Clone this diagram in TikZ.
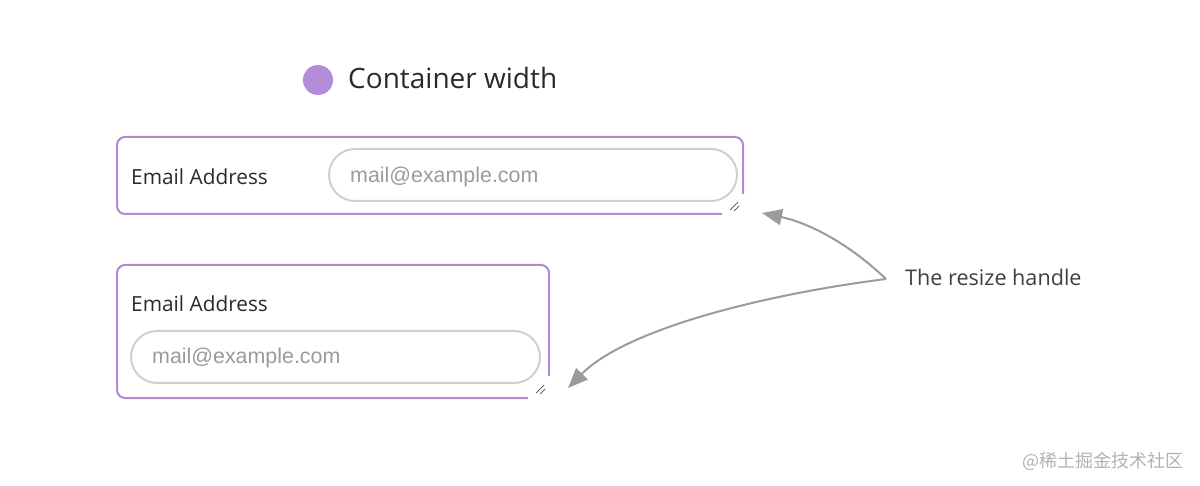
\documentclass[tikz,border=0pt]{standalone}
\usepackage{fontspec}
\setmainfont{Open Sans}
\newfontfamily\fieldfont{Liberation Sans}
\newfontfamily\cjk{Noto Sans CJK SC}
\usetikzlibrary{arrows.meta,calc}

\definecolor{lilac}{HTML}{B48CDA}
\definecolor{boxline}{HTML}{B089D2}
\definecolor{fieldline}{HTML}{CFCFCF}
\definecolor{hintgray}{HTML}{9B9B9B}
\definecolor{inktext}{HTML}{2A2A2A}

\begin{document}
\begin{tikzpicture}[x=1pt,y=-1pt,every node/.style={inner sep=0pt}]

\tikzstyle{container}=[draw=boxline,line width=2pt,rounded corners=8pt];
\tikzstyle{field}=[draw=fieldline,line width=2pt,rounded corners=26pt];
\tikzstyle{label}=[anchor=base west,text=inktext,font=\fontsize{20.8}{24}\selectfont];
\tikzstyle{placeholder}=[anchor=base west,text=hintgray,font=\fieldfont\fontsize{21.4}{24}\selectfont];
\tikzstyle{grip}=[draw=black!70,line width=0.7pt];
\tikzstyle{pointer}=[draw=hintgray,line width=2pt,-{Triangle[length=20pt,width=16pt]}];

\useasboundingbox (0,0) rectangle (1200,486);

% legend
\node[circle,fill=lilac,minimum size=30pt] (dot) at (318,80) {};
\node[anchor=base west,text=inktext,font=\fontsize{28}{32}\selectfont] (legend) at (348,89) {Container width};

% wide container
\draw[container] (722,214) -- (117,214) -- (117,137) -- (743,137) -- (743,194);
\draw[field] (329,149) rectangle (737,201);
\node[label] (lab1) at (131,185) {Email Address};
\node[placeholder] (ph1) at (350,183) {mail@example.com};
\coordinate (grip1) at (734,206);
\draw[grip] ($(grip1)+(-4,4)$) -- ($(grip1)+(4,-4)$);
\draw[grip] ($(grip1)+(0,5)$) -- ($(grip1)+(5,0)$);

% narrow container
\draw[container] (528,398) -- (117,398) -- (117,265) -- (549,265) -- (549,376);
\draw[field] (131,331) rectangle (540,383);
\node[label] (lab2) at (131,312) {Email Address};
\node[placeholder] (ph2) at (152,364) {mail@example.com};
\coordinate (grip2) at (540,389);
\draw[grip] ($(grip2)+(-4,4)$) -- ($(grip2)+(4,-4)$);
\draw[grip] ($(grip2)+(0,5)$) -- ($(grip2)+(5,0)$);

% hint
\node[label,text=inktext!90,font=\fontsize{21.6}{24}\selectfont] (hint) at (905,286) {The resize handle};
\coordinate (from) at (886,279);
\coordinate (tip1) at (762,213);
\coordinate (tip2) at (568,388);
\draw[pointer] (from) .. controls (845,240) and (805,222) .. (tip1);
\draw[pointer] (from) .. controls (760,295) and (625,330) .. (tip2);

% watermark
\node[anchor=base west,text=black!30,font=\cjk\fontsize{18}{20}\selectfont] (mark) at (1022,467) {@稀土掘金技术社区};

\end{tikzpicture}
\end{document}
